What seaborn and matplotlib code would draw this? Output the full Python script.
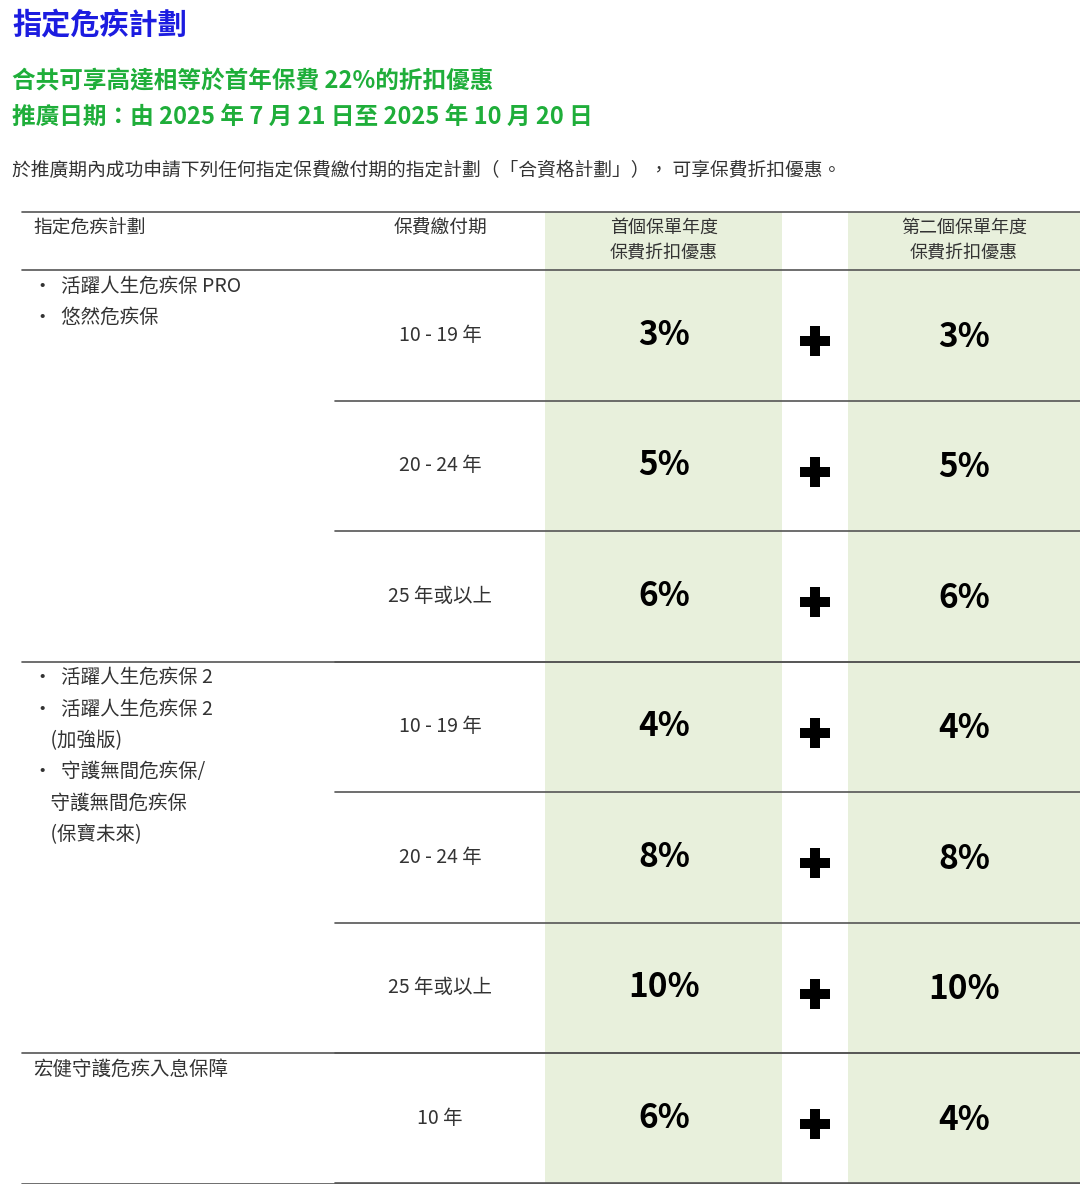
import matplotlib
matplotlib.use("Agg")
import matplotlib.pyplot as plt
import seaborn as sns

sns.set_theme(style="white")
plt.rcParams['font.family'] = ['Noto Sans CJK TC', 'DejaVu Sans']

title = "指定危疾計劃"
subtitle = "合共可享高達相等於首年保費 22%的折扣優惠"
dates = "推廣日期：由 2025 年 7 月 21 日至 2025 年 10 月 20 日"
intro = "於推廣期內成功申請下列任何指定保費繳付期的指定計劃（「合資格計劃」）， 可享保費折扣優惠。"
headers = ["指定危疾計劃", "保費繳付期", "首個保單年度\n保費折扣優惠", "第二個保單年度\n保費折扣優惠"]
plan_groups = [["•  活躍人生危疾保 PRO", "•  悠然危疾保"],
               ["•  活躍人生危疾保 2", "•  活躍人生危疾保 2", "    (加強版)", "•  守護無間危疾保/", "    守護無間危疾保", "    (保寶未來)"],
               ["宏健守護危疾入息保障"]]
group_rows = [3, 3, 1]
periods = ["10 - 19 年", "20 - 24 年", "25 年或以上", "10 - 19 年", "20 - 24 年", "25 年或以上", "10 年"]
first_year = [3, 5, 6, 4, 8, 10, 6]
second_year = [3, 5, 6, 4, 8, 10, 4]

fig = plt.figure(figsize=(10.8, 11.84), dpi=100)
ax = fig.add_axes([0, 0, 1, 1])
ax.set_xlim(0, 1080); ax.set_ylim(1184, 0); ax.axis("off")

green = "#e8f0dc"
top, hdr_bot, rh = 212, 270, 130.5
n = len(periods)
bottom = hdr_bot + rh * n
ax.axvspan(545, 782, ymin=0, ymax=1 - top / 1184, color=green, lw=0)
ax.axvspan(848, 1080, ymin=0, ymax=1 - top / 1184, color=green, lw=0)

ax.text(12, 25, title, color="#1c1ce0", fontsize=21, fontweight="bold", va="center")
ax.text(12, 81, subtitle, color="#1fae3a", fontsize=17, fontweight="bold", va="center")
ax.text(12, 117, dates, color="#1fae3a", fontsize=17, fontweight="bold", va="center")
ax.text(12, 170, intro, color="#333333", fontsize=13.5, va="center")

txt = "#333333"
ax.plot([22, 1080], [top, top], color="#555", lw=1.2)
ax.plot([22, 1080], [hdr_bot, hdr_bot], color="#555", lw=1.2)
ax.text(33, 227, headers[0], color=txt, fontsize=13.5, va="center")
ax.text(440, 227, headers[1], color=txt, fontsize=13.5, va="center", ha="center")
ax.text(664, 240, headers[2], color=txt, fontsize=13, va="center", ha="center", linespacing=1.5)
ax.text(964, 240, headers[3], color=txt, fontsize=13, va="center", ha="center", linespacing=1.5)

r = 0
for g, cnt in zip(plan_groups, group_rows):
    y0 = hdr_bot + r * rh
    for k, line in enumerate(g):
        ax.text(33, y0 + 16 + k * 31.5, line, color=txt, fontsize=14, va="center")
    r += cnt
    ax.plot([22, 1080], [hdr_bot + r * rh] * 2, color="#555", lw=1.2)

for i in range(n):
    yc = hdr_bot + (i + 0.5) * rh
    if i > 0:
        ax.plot([335, 1080], [hdr_bot + i * rh] * 2, color="#555", lw=1.2)
    ax.text(440, yc, periods[i], color=txt, fontsize=14, ha="center", va="center")
    ax.text(664, yc, f"{first_year[i]}%", color="black", fontsize=24, fontweight="bold", ha="center", va="center")
    ax.text(964, yc + 2, f"{second_year[i]}%", color="black", fontsize=24, fontweight="bold", ha="center", va="center")
    ax.plot([815], [yc + 6], marker="P", color="black", markersize=22, markeredgewidth=0)
ax.plot([335, 1080], [bottom - 1] * 2, color="#555", lw=1.2)

fig.savefig("out.png", dpi=100, facecolor="white")
